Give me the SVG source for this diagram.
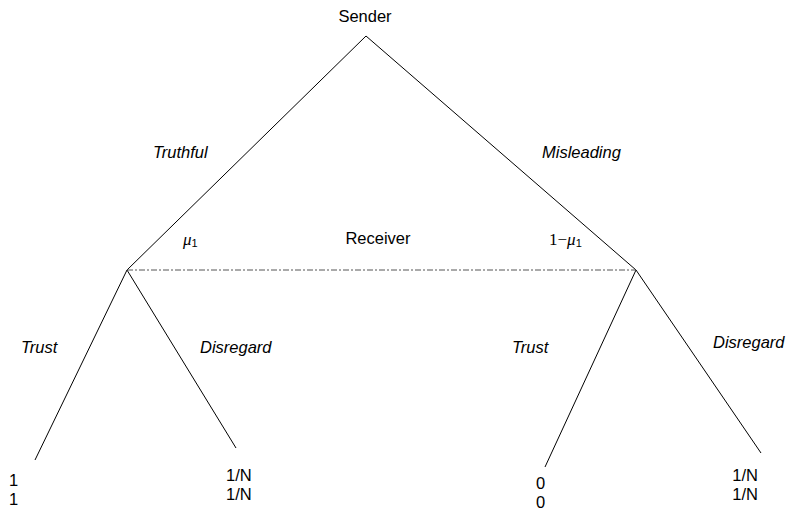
<svg xmlns="http://www.w3.org/2000/svg" width="788" height="513" viewBox="0 0 788 513">
<style>
.t{font-family:"Liberation Sans",Arial,sans-serif;font-size:16.5px;fill:#000}
.i{font-style:italic}
.e{stroke:#000;stroke-width:1;fill:none}
.m{font-family:"Liberation Serif","Times New Roman",serif;font-size:17px;font-style:italic}
.n{font-family:"Liberation Serif","Times New Roman",serif;font-size:17px}
.s{font-family:"Liberation Sans",Arial,sans-serif;font-size:11px}
</style>
<rect width="788" height="513" fill="#fff"/>
<g id="connectors">
<line class="e" x1="366" y1="36" x2="127" y2="270"/>
<line class="e" x1="366" y1="36" x2="636" y2="270"/>
<line class="e" x1="127" y1="270" x2="35" y2="460"/>
<line class="e" x1="127" y1="270" x2="236" y2="448"/>
<line class="e" x1="636" y1="270" x2="545" y2="467"/>
<line class="e" x1="636" y1="270" x2="761" y2="453"/>
<line x1="127" y1="270" x2="636" y2="270" stroke="#555" stroke-width="1" stroke-dasharray="6,2,2,2"/>
</g>
<g id="sender"><text class="t" x="365" y="22" text-anchor="middle">Sender</text></g>
<g id="edge-labels">
<text class="t i" x="153" y="158">Truthful</text>
<text class="t i" x="542" y="158">Misleading</text>
<text class="t i" x="21" y="353">Trust</text>
<text class="t i" x="200" y="353">Disregard</text>
<text class="t i" x="512" y="353">Trust</text>
<text class="t i" x="713" y="348">Disregard</text>
</g>
<g id="receiver">
<text class="t" x="378" y="244" text-anchor="middle">Receiver</text>
<text x="183" y="245"><tspan class="m">μ</tspan><tspan class="s" dy="2">1</tspan></text>
<text x="549" y="245"><tspan class="n">1−</tspan><tspan class="m">μ</tspan><tspan class="s" dy="2">1</tspan></text>
</g>
<g id="leaf-1"><text class="t" x="9" y="486">1</text><text class="t" x="9" y="505">1</text></g>
<g id="leaf-2"><text class="t" x="226" y="481">1/N</text><text class="t" x="226" y="500">1/N</text></g>
<g id="leaf-3"><text class="t" x="536" y="489">0</text><text class="t" x="536" y="508">0</text></g>
<g id="leaf-4"><text class="t" x="758" y="481" text-anchor="end">1/N</text><text class="t" x="758" y="500" text-anchor="end">1/N</text></g>
</svg>
